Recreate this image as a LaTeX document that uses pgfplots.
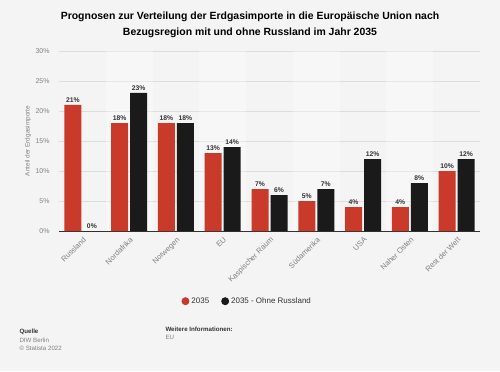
\documentclass[border=0pt]{standalone}
\usepackage{pgfplots}
\pgfplotsset{compat=1.18}
\usepackage{fontspec}
\setmainfont{Liberation Sans}
\definecolor{bg}{HTML}{F4F4F4}
\definecolor{sred}{HTML}{C93A2A}
\definecolor{sblack}{HTML}{1A1A1A}
\definecolor{gridc}{HTML}{DDDDDD}
\definecolor{tickc}{HTML}{808080}
\definecolor{txt}{HTML}{333333}
\begin{document}
\begin{tikzpicture}[x=1bp,y=1bp]
\fill[bg] (0,0) rectangle (500,371);
% title
\node[font=\fontsize{10.5}{12}\selectfont\bfseries, text=black] at (250,354) {Prognosen zur Verteilung der Erdgasimporte in die Europäische Union nach};
\node[font=\fontsize{10.5}{12}\selectfont\bfseries, text=black] at (250,338) {Bezugsregion mit und ohne Russland im Jahr 2035};
\begin{axis}[
  at={(59bp,140bp)}, anchor=south west,
  scale only axis, width=421bp, height=180bp,
  xmin=-0.5, xmax=8.5, ymin=0, ymax=30,
  ytick={0,5,10,15,20,25,30},
  yticklabel={\pgfmathprintnumber{\tick}\%},
  /pgf/number format/assume math mode=true,
  xtick={0,...,8},
  xticklabels={Russland,Nordafrika,Norwegen,EU,Kaspischer Raum,Südamerika,USA,Naher Osten,Rest der Welt},
  xticklabel style={rotate=45, anchor=north east, font=\fontsize{7.6}{8}\selectfont, text=tickc, inner sep=1bp, yshift=-3bp, xshift=-2.5bp},
  yticklabel style={font=\fontsize{7}{8}\selectfont, text=tickc, xshift=-6bp},
  major tick length=0pt,
  ymajorgrids, grid style={gridc, line width=0.6bp},
  axis x line*=bottom, axis y line*=left,
  y axis line style={draw=none},
  x axis line style={draw=txt, line width=0.8bp, -},
  ylabel={Anteil der Erdgasimporte},
  ylabel style={font=\fontsize{6.4}{7}\selectfont, text=tickc, at={(axis description cs:-0.058,0.5)}},
  ybar, bar width=17bp,
  nodes near coords={\pgfmathprintnumber{\pgfplotspointmeta}\%},
  nodes near coords style={font=\fontsize{6.8}{7}\selectfont\bfseries, text=txt, inner sep=2.5bp},
  legend style={at={(axis description cs:0.447,-0.39)}, anchor=center, draw=none, fill=none,
    font=\fontsize{8}{9}\selectfont, text=txt, legend columns=2,
    /tikz/every even column/.append style={column sep=10bp}},
  legend image code/.code={\fill[#1] (2bp,0bp) circle (4bp);},
]
\fill[white, opacity=0.3] (axis cs:0.5,0) rectangle (axis cs:1.5,30);
\fill[white, opacity=0.3] (axis cs:2.5,0) rectangle (axis cs:3.5,30);
\fill[white, opacity=0.3] (axis cs:4.5,0) rectangle (axis cs:5.5,30);
\fill[white, opacity=0.3] (axis cs:6.5,0) rectangle (axis cs:7.5,30);
\addplot[fill=sred, draw=none, bar shift=-9.5bp] coordinates {
(0,21) (1,18) (2,18) (3,13) (4,7) (5,5) (6,4) (7,4) (8,10)};
\addplot[fill=sblack, draw=none, bar shift=9.5bp] coordinates {
(0,0) (1,23) (2,18) (3,14) (4,6) (5,7) (6,12) (7,8) (8,12)};
\legend{2035, 2035 - Ohne Russland}
\end{axis}
% footer
\node[anchor=west, font=\fontsize{6.2}{7}\selectfont\bfseries, text=txt] at (16,39) {Quelle};
\node[anchor=west, font=\fontsize{6.2}{7}\selectfont, text=tickc] at (16,31) {DIW Berlin};
\node[anchor=west, font=\fontsize{6.2}{7}\selectfont, text=tickc] at (16,23) {© Statista 2022};
\node[anchor=west, font=\fontsize{6.2}{7}\selectfont\bfseries, text=txt] at (162,42) {Weitere Informationen:};
\node[anchor=west, font=\fontsize{6.2}{7}\selectfont, text=tickc] at (162,34) {EU};
\end{tikzpicture}
\end{document}
